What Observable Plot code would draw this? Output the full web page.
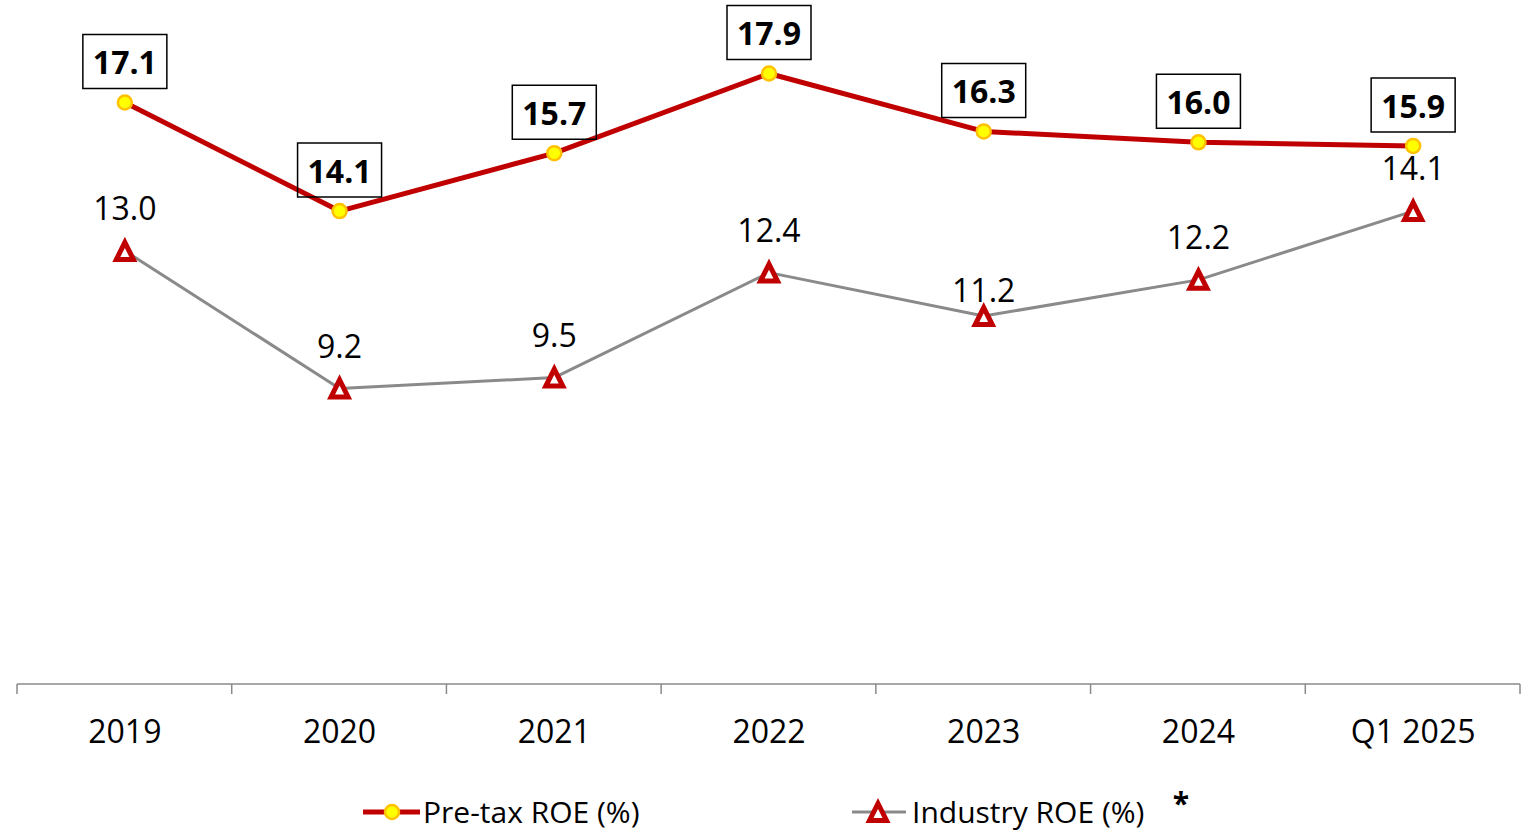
<!DOCTYPE html>
<html>
<head>
<meta charset="utf-8">
<script src="https://cdn.jsdelivr.net/npm/d3@7"></script>
<script src="https://cdn.jsdelivr.net/npm/@observablehq/plot@0.6"></script>
<style>
  html, body { margin: 0; padding: 0; background: #ffffff; }
  #chart { width: 1522px; font-family: "Open Sans", sans-serif; }
  #chart svg { display: block; }
</style>
</head>
<body>
<div id="chart"></div>
<script>
// ---- data ----
const categories = ["2019", "2020", "2021", "2022", "2023", "2024", "Q1 2025"];
const pretaxROE = [17.1, 14.1, 15.7, 17.9, 16.3, 16.0, 15.9];
const industryROE = [13.0, 9.2, 9.5, 12.4, 11.2, 12.2, 14.1];
const seriesNames = ["Pre-tax ROE (%)", "Industry ROE (%)"];
const footnoteMark = "*";

const pretax = categories.map((c, i) => ({cat: c, value: pretaxROE[i]}));
const industry = categories.map((c, i) => ({cat: c, value: industryROE[i]}));

// ---- styles ----
const RED = "#C00000";
const GRAY = "#8a8a8a";
const YELLOW = "#FFFF00";
const ORANGE = "#FFC000";
const FONT = "Open Sans";

const boxSymbol = {draw(ctx) { ctx.rect(-42, -27, 84, 54); }};
const triSymbol = {draw(ctx) { ctx.moveTo(0, -8.5); ctx.lineTo(8.5, 8.5); ctx.lineTo(-8.5, 8.5); ctx.closePath(); }};

// axis line + boundary ticks drawn from the plot's own x scale and frame
function xAxisLine(index, scales, values, dim) {
  const g = d3.create("svg:g");
  const x = scales.x;
  const step = x(categories[1]) - x(categories[0]);
  const y0 = dim.height - dim.marginBottom;
  g.append("line")
    .attr("x1", dim.marginLeft).attr("x2", dim.width - dim.marginRight)
    .attr("y1", y0).attr("y2", y0)
    .attr("stroke", GRAY).attr("stroke-width", 1.5);
  const bounds = categories.map(c => x(c) - step / 2).concat([x(categories[categories.length - 1]) + step / 2]);
  g.selectAll("line.t").data(bounds).join("line")
    .attr("class", "t")
    .attr("x1", d => d).attr("x2", d => d)
    .attr("y1", y0).attr("y2", y0 + 10)
    .attr("stroke", GRAY).attr("stroke-width", 1.5);
  return g.node();
}

const chart = Plot.plot({
  width: 1522,
  height: 770,
  marginLeft: 17,
  marginRight: 2,
  marginTop: 0,
  marginBottom: 86,
  style: {fontFamily: FONT, background: "#ffffff", overflow: "visible"},
  x: {type: "point", domain: categories, padding: 0.5, round: false, axis: null},
  y: {type: "linear", domain: [0, 20], range: [721, -3], axis: null},
  marks: [
    xAxisLine,
    Plot.axisX({tickSize: 0, tickPadding: 36, fontSize: 32, fill: "#000000", label: null}),
    // industry series
    Plot.line(industry, {x: "cat", y: "value", stroke: GRAY, strokeWidth: 3}),
    Plot.dot(industry, {x: "cat", y: "value", symbol: triSymbol, r: 5, fill: "#ffffff", stroke: RED, strokeWidth: 5}),
    Plot.text(industry, {filter: d => d.cat !== "2023", x: "cat", y: "value", text: d => d.value.toFixed(1), dy: -41, fontSize: 32, fill: "#000000"}),
    Plot.text(industry, {filter: d => d.cat === "2023", x: "cat", y: "value", text: d => d.value.toFixed(1), dy: -24, fontSize: 32, fill: "#000000"}),
    // pre-tax series
    Plot.line(pretax, {x: "cat", y: "value", stroke: RED, strokeWidth: 5}),
    Plot.dot(pretax, {x: "cat", y: "value", r: 7, fill: YELLOW, stroke: ORANGE, strokeWidth: 2.5}),
    Plot.dot(pretax, {x: "cat", y: "value", symbol: boxSymbol, r: 5, fill: "none", stroke: "#000000", strokeWidth: 1.5, dy: -41}),
    Plot.text(pretax, {x: "cat", y: "value", text: d => d.value.toFixed(1), dy: -38.5, fontSize: 32, fontWeight: "bold", fill: "#000000"})
  ]
});

document.getElementById("chart").appendChild(chart);

// ---- legend below the plot ----
const legend = d3.select("#chart").append("svg")
  .attr("width", 1522).attr("height", 62)
  .style("font-family", FONT);

const l1 = legend.append("g");
l1.append("line").attr("x1", 363).attr("x2", 420).attr("y1", 42).attr("y2", 42)
  .attr("stroke", RED).attr("stroke-width", 5);
l1.append("circle").attr("cx", 392).attr("cy", 42).attr("r", 7)
  .attr("fill", YELLOW).attr("stroke", ORANGE).attr("stroke-width", 2.5);
l1.append("text").attr("x", 423).attr("y", 53).attr("font-size", 30).attr("fill", "#000")
  .text(seriesNames[0]);

const l2 = legend.append("g");
l2.append("line").attr("x1", 852).attr("x2", 906).attr("y1", 42).attr("y2", 42)
  .attr("stroke", GRAY).attr("stroke-width", 3);
l2.append("path").attr("transform", "translate(878,42)")
  .attr("d", d3.symbol(triSymbol)())
  .attr("fill", "#fff").attr("stroke", RED).attr("stroke-width", 5);
l2.append("text").attr("x", 912).attr("y", 53).attr("font-size", 30).attr("fill", "#000")
  .text(seriesNames[1]);

legend.append("text").attr("x", 1181).attr("y", 44).attr("font-size", 30)
  .attr("font-weight", "bold").attr("text-anchor", "middle").attr("fill", "#000")
  .text(footnoteMark);
</script>
</body>
</html>
